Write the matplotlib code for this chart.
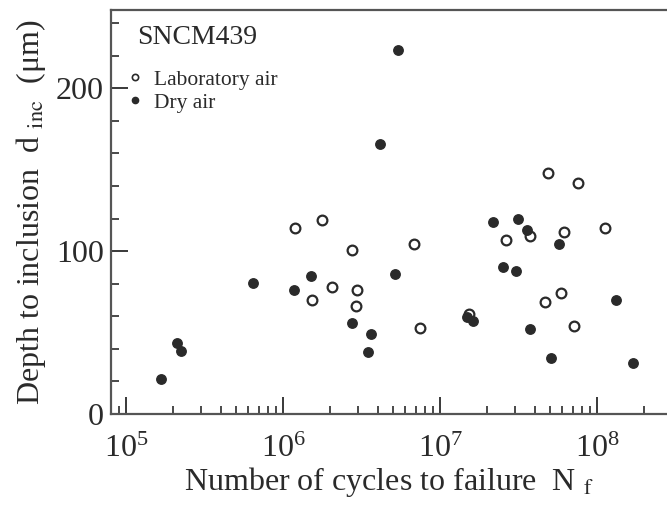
import matplotlib
matplotlib.use('Agg')
import matplotlib.pyplot as plt
from matplotlib.lines import Line2D
from matplotlib.ticker import LogLocator, MultipleLocator, NullFormatter

################# DATOS ############################

# Laboratory air (open circles)
LAB_N = [1.19e6, 1.76e6, 2.06e6, 2.94e6, 2.90e6, 1.52e6, 2.76e6, 6.86e6, 7.47e6,
         1.53e7, 4.90e7, 7.60e7, 2.62e7, 3.74e7, 6.19e7, 1.12e8, 4.67e7, 5.88e7, 7.15e7]
LAB_D = [114, 119, 78, 76, 66.5, 70, 100.5, 104.5, 53,
         61.5, 148, 141.5, 107, 109, 112, 114, 69, 74, 54]

# Dry air (filled circles)
DRY_N = [1.66e5, 2.12e5, 2.23e5, 6.47e5, 1.175e6, 1.51e6, 2.76e6, 3.64e6, 3.49e6,
         5.19e6, 5.43e6, 4.15e6, 1.49e7, 1.62e7, 2.19e7, 3.13e7, 3.60e7, 5.73e7,
         2.53e7, 3.05e7, 3.74e7, 5.07e7, 1.33e8, 1.70e8]
DRY_D = [21.5, 43.5, 38.5, 80.5, 76, 85, 56, 49, 38,
         86, 223.5, 165.5, 59.5, 57, 118, 120, 113, 104.5,
         90, 88, 52, 34.5, 70, 31.5]

MATERIAL = 'SNCM439'
LABEL_LAB = 'Laboratory air'
LABEL_DRY = 'Dry air'

COLOR = '#2a2a2a'

################# GRAFICA ############################

plt.rcParams['font.family'] = ['Liberation Serif', 'DejaVu Serif']
plt.rcParams['mathtext.fontset'] = 'stix'

fig = plt.figure(figsize=(6.67, 5.08), dpi=100)
ax = fig.add_axes([111 / 667, 94 / 508, 1 - 111 / 667, 404 / 508])

ax.plot(LAB_N, LAB_D, 'o', ls='none', ms=7, mfc='white', mec=COLOR, mew=1.6, zorder=3)
ax.plot(DRY_N, DRY_D, 'o', ls='none', ms=6.8, mfc=COLOR, mec=COLOR, zorder=4)

ax.set_xscale('log')
ax.set_xlim(10 ** 4.9045, 10 ** 8.446)
ax.set_ylim(0, 248)

ax.xaxis.set_major_locator(LogLocator(base=10, numticks=10))
ax.xaxis.set_minor_locator(LogLocator(base=10, subs=range(2, 10), numticks=20))
ax.xaxis.set_minor_formatter(NullFormatter())
ax.yaxis.set_major_locator(MultipleLocator(100))
ax.yaxis.set_minor_locator(MultipleLocator(20))

ax.tick_params(which='both', direction='in', color=COLOR, labelcolor=COLOR,
               top=False, right=False, labelsize=23)
ax.tick_params(which='major', length=12, width=1.3)
ax.tick_params(which='minor', length=5.5, width=1.2)
ax.tick_params(axis='x', which='major', pad=15)
ax.tick_params(axis='y', which='major', pad=5)

for lado in ['left', 'bottom', 'top']:
    ax.spines[lado].set_color('#555555')
    ax.spines[lado].set_linewidth(1.6)
ax.spines['right'].set_visible(False)

ax.set_xlabel('Number of cycles to failure  N $_{\\rm f}$', fontsize=23, color=COLOR, labelpad=1)
ax.set_ylabel('Depth to inclusion  d $_{\\rm inc}$  (μm)', fontsize=23, color=COLOR, labelpad=6)

ax.text(0.047, 0.931, MATERIAL, transform=ax.transAxes, fontsize=20,
        color=COLOR, ha='left', va='center')

handles = [
    Line2D([], [], marker='o', ls='none', ms=4.5, mfc='white', mec=COLOR, mew=1.2),
    Line2D([], [], marker='o', ls='none', ms=4.5, mfc=COLOR, mec=COLOR),
]
leg = ax.legend(handles, [LABEL_LAB, LABEL_DRY], loc='upper left',
                bbox_to_anchor=(0.0, 0.89), frameon=False, fontsize=15.5,
                handlelength=0.8, handletextpad=0.5, labelspacing=0.15,
                borderaxespad=0.3)
for t in leg.get_texts():
    t.set_color(COLOR)

fig.savefig('out.png', dpi=100)
